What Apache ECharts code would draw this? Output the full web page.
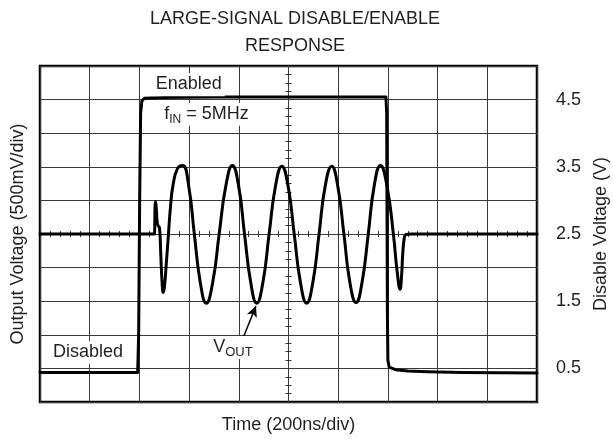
<!DOCTYPE html>
<html><head><meta charset="utf-8">
<script src="https://cdn.jsdelivr.net/npm/echarts@6/dist/echarts.min.js"></script>
<style>html,body{margin:0;padding:0;background:#fff}#c{width:613px;height:439px}</style>
</head><body><div id="c"></div>
<script>
// ---- data (time in ns relative to screen centre, 200 ns/div) ----
// Disable pin voltage (V), right axis
const disablePoints = [
  [-1000,0.44],[-700,0.44],[-607,0.44],[-603,1.0],[-599,3.0],[-595,4.3],[-590,4.48],[-580,4.52],
  [-500,4.53],[-300,4.54],[0,4.54],[392,4.54],[395,4.3],[398,1.3],[400,0.62],[405,0.52],
  [430,0.48],[480,0.46],[560,0.45],[700,0.44],[1000,0.43]
];
// Output voltage (V), left axis, 500 mV/div, centre = 0 V
const voutPoints = [
  [-1000,0],[-545,0],[-539,0.01],[-537,0.42],[-535,0.48],[-532,0.38],[-528,0.16],[-524,0.12],[-519,0.09],
  [-514,-0.3],[-509,-0.7],[-504,-0.87],[-499,-0.78],[-492,-0.45],[-484,-0.05],[-475,0.4],[-465,0.72],
  [-446,0.98],[-426,1.02],[-402,0.72],[-379,0],[-355,-0.72],[-331,-1.03],[-305,-0.72],[-279,0],
  [-252,0.72],[-226,1.02],[-201,0.72],[-177,0],[-152,-0.72],[-128,-1.03],[-103,-0.72],[-78,0],
  [-52,0.72],[-27,1.01],[-2,0.72],[23,0],[48,-0.72],[73,-1.03],[98,-0.72],[123,0],
  [148,0.72],[174,1.01],[198,0.72],[223,0],[247,-0.72],[272,-1.02],[296,-0.72],[321,0],
  [345,0.72],[370,1.02],[396,0.72],[422,0],[437,-0.55],[449,-0.82],[455,-0.62],[460,-0.28],
  [466,-0.06],[472,-0.01],[490,0],[1000,0]
];
const rightTickLabels = ['0.5','1.5','2.5','3.5','4.5'];
const titleText = 'LARGE-SIGNAL DISABLE/ENABLE\nRESPONSE';

const FONT = '"Liberation Sans", Arial, Helvetica, sans-serif';
const INK = '#231f20';
const GRIDC = '#3a3a3a';

const chart = echarts.init(document.getElementById('c'), null, {renderer:'canvas'});

function centreAxisX(inside){
  return {type:'value', min:-1000, max:1000, interval:40, position:'top',
    axisLine:{show:true, onZero:true, onZeroAxisIndex:0, lineStyle:{color:GRIDC, width:1}},
    axisTick:{show:true, inside:inside, length:3, lineStyle:{color:'#333', width:1}},
    axisLabel:{show:false}, splitLine:{show:false}};
}
function centreAxisY(inside){
  return {type:'value', min:-2.5, max:2.5, interval:0.125, position:'left',
    axisLine:{show:true, onZero:true, onZeroAxisIndex:0, lineStyle:{color:GRIDC, width:1}},
    axisTick:{show:true, inside:inside, length:3, lineStyle:{color:'#333', width:1}},
    axisLabel:{show:false}, splitLine:{show:false}};
}
const nameStyle = {fontFamily:FONT, fontSize:18, color:INK};

const option = {
  animation:false,
  backgroundColor:'#fff',
  title:{text:titleText, left:290, top:1, textAlign:'center',
    textStyle:{fontFamily:FONT, fontSize:18, fontWeight:'normal', color:INK, lineHeight:27}},
  grid:{left:40, right:76, top:66, bottom:37, containLabel:false, outerBoundsMode:'none',
    show:true, borderColor:'#000', borderWidth:2.5, backgroundColor:'#fff'},
  xAxis:[
    {type:'value', min:-1000, max:1000, interval:200, position:'bottom',
      name:'Time (200ns/div)', nameLocation:'middle', nameGap:14, nameTextStyle:nameStyle,
      axisLine:{show:false, onZero:false}, axisTick:{show:false}, axisLabel:{show:false},
      splitLine:{show:true, lineStyle:{color:GRIDC, width:1}}},
    centreAxisX(true), centreAxisX(false)
  ],
  yAxis:[
    {type:'value', min:-2.5, max:2.5, interval:0.5, position:'left',
      name:'Output Voltage (500mV/div)', nameLocation:'middle', nameRotate:90, nameGap:13, nameTextStyle:nameStyle,
      axisLine:{show:false, onZero:false}, axisTick:{show:false}, axisLabel:{show:false},
      splitLine:{show:true, lineStyle:{color:GRIDC, width:1}}},
    {type:'value', min:0, max:5, interval:0.5, position:'right',
      name:'Disable Voltage (V)', nameLocation:'middle', nameRotate:90, nameGap:55, nameTextStyle:nameStyle,
      axisLine:{show:false, onZero:false}, axisTick:{show:false}, splitLine:{show:false},
      axisLabel:{show:true, margin:19, fontFamily:FONT, fontSize:18, color:INK,
        formatter:function(v){ const s=v.toFixed(1); return rightTickLabels.indexOf(s)>=0 ? s : ''; }}},
    centreAxisY(true), centreAxisY(false)
  ],
  series:[
    {type:'line', name:'Disable', xAxisIndex:0, yAxisIndex:1, data:disablePoints, symbol:'none',
      lineStyle:{color:'#000', width:3, join:'round', cap:'round'}, z:4},
    {type:'line', name:'VOUT', xAxisIndex:0, yAxisIndex:0, data:voutPoints, symbol:'none',
      smooth:0.5,
      lineStyle:{color:'#000', width:3, join:'round', cap:'round'}, z:5,
      markLine:{silent:true, symbol:['none','arrow'], symbolSize:[8,11],
        lineStyle:{color:'#000', width:1.5, type:'solid'}, label:{show:false},
        data:[[{coord:[-184,-1.56]},{coord:[-131,-1.07]}]]}}
  ]
};
chart.setOption(option);

// ---- annotations, anchored in data coordinates (time, disable-axis volts) ----
const mctx = document.createElement('canvas').getContext('2d');
function tw(text, size){ mctx.font = size+'px '+FONT; return mctx.measureText(text).width; }
function px(t, v){ return chart.convertToPixel({xAxisIndex:0, yAxisIndex:1}, [t, v]); }

function label(parts, t, v){
  const p = px(t, v);
  let x = p[0];
  const els = [];
  const start = x;
  parts.forEach(function(pt){
    els.push({type:'text', x:x, y:p[1] + (pt.dy||0), z:20,
      style:{text:pt.text, fontFamily:FONT, fontSize:pt.size, fill:INK, textVerticalAlign:'middle', textAlign:'left'}});
    x += tw(pt.text, pt.size);
  });
  const bg = {type:'rect', z:19, shape:{x:start-3, y:p[1]-11, width:(x-start)+6, height:23}, style:{fill:'#fff'}};
  return [bg].concat(els);
}
let g = [];
g = g.concat(label([{text:'Enabled', size:18}], -534, 4.73));
g = g.concat(label([{text:'f', size:18},{text:'IN', size:12, dy:6},{text:' = 5MHz', size:18}], -500, 4.29));
g = g.concat(label([{text:'Disabled', size:18}], -948, 0.745));
g = g.concat(label([{text:'V', size:18},{text:'OUT', size:13, dy:6}], -303, 0.82));
chart.setOption({graphic:g});
</script></body></html>
